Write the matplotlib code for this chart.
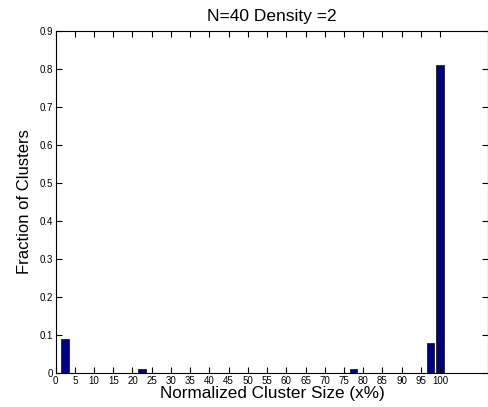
import numpy as np
import matplotlib
matplotlib.use("Agg")
import matplotlib.pyplot as plt

plt.rcParams['font.family'] = ['Liberation Sans', 'DejaVu Sans']

# histogram bins: normalized cluster size in steps of 2.5 %
bin_centers = [2.5 * k for k in range(1, 41)]
fractions = [0.0] * 40
fractions[0] = 0.09    # 2.5 %
fractions[8] = 0.01    # 22.5 %
fractions[30] = 0.01   # 77.5 %
fractions[38] = 0.08   # 97.5 %
fractions[39] = 0.81   # 100 %

x_ticks = list(range(0, 101, 5))
y_ticks = [round(0.1 * i, 1) for i in range(10)]

fig = plt.figure(figsize=(4.89, 4.07), dpi=100)
ax = fig.add_axes([0.1135, 0.0835, 0.885, 0.8405])

ax.bar(bin_centers, fractions, width=2.0, color='#000080',
       edgecolor='#202020', linewidth=0.6)

ax.set_xlim(0, 112.5)
ax.set_ylim(0, 0.9)
ax.set_xticks(x_ticks)
ax.set_xticklabels([str(t) for t in x_ticks], fontsize=7)
ax.set_yticks(y_ticks)
ax.set_yticklabels(['0'] + [f'{t:.1f}' for t in y_ticks[1:]], fontsize=7)
ax.tick_params(direction='in', top=True, right=True, length=4, width=0.8, pad=2)
for s in ax.spines.values():
    s.set_linewidth(0.8)

ax.set_xlabel('Normalized Cluster Size (x%)', fontsize=12.3, labelpad=0)
ax.set_ylabel('Fraction of Clusters', fontsize=12, labelpad=5)
ax.set_title('N=40 Density =2', fontsize=12.5, pad=7)

fig.savefig('out.png', dpi=100)
